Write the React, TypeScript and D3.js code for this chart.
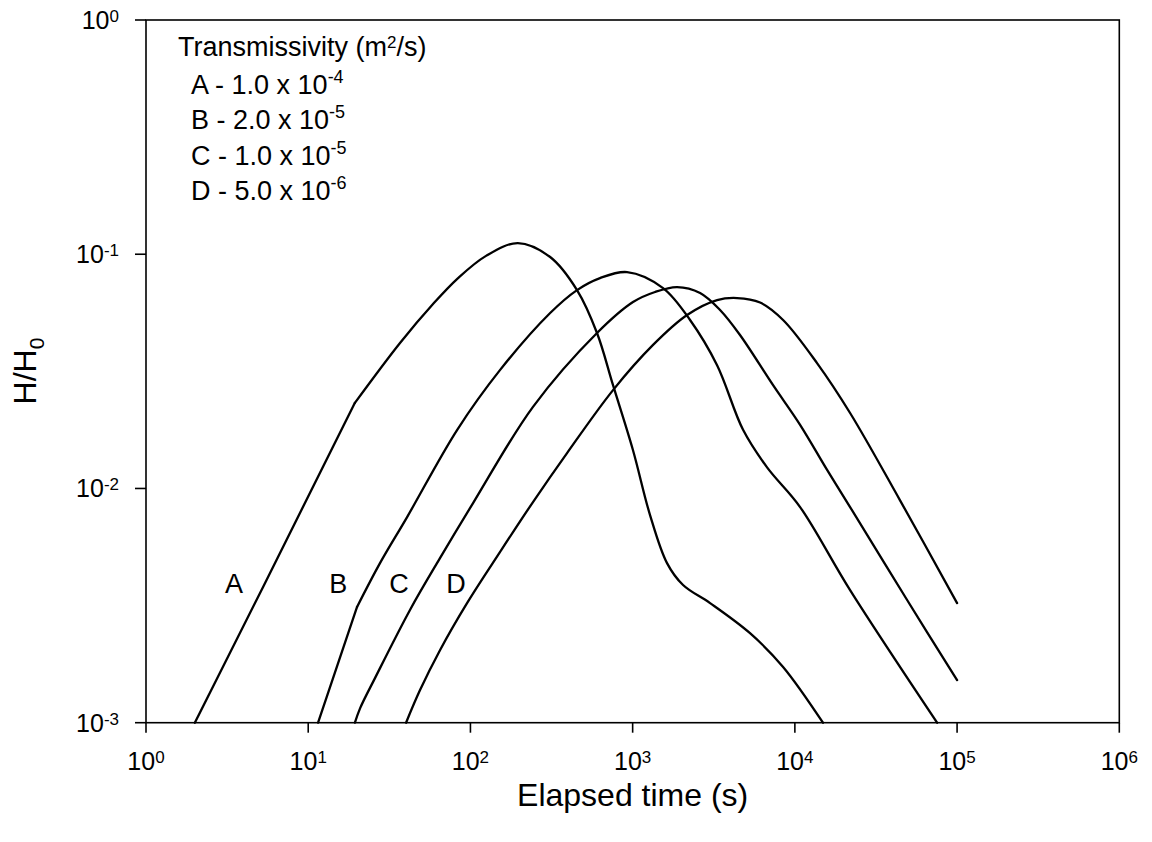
import React from "react";
import * as d3 from "d3";

// ---- data ----
// each point: [elapsed time (s), H/H0]
const seriesA: [number, number][] = [
  [2.0, 0.001], [5.26, 0.00379], [19.4, 0.0232],
  [36.8, 0.0418], [58.8, 0.0613], [83.9, 0.0791], [124.8, 0.0984], [196, 0.1116],
  [310, 0.0973], [454, 0.0703], [603, 0.0461], [757, 0.0276], [1004, 0.0146],
  [1280, 0.0077], [1629, 0.0048], [2045, 0.00387], [3001, 0.00324], [5290, 0.00241],
  [8460, 0.00173], [14900, 0.001],
];
const seriesB: [number, number][] = [
  [11.5, 0.001], [20, 0.00312],
  [27.7, 0.0048], [40.7, 0.00755], [82.7, 0.01776], [152, 0.032], [310, 0.0561],
  [454, 0.0703], [629, 0.0791], [924, 0.0839], [1540, 0.0717], [2259, 0.0524],
  [3315, 0.0336], [4793, 0.0178], [6740, 0.0123], [10770, 0.00833], [21900, 0.00368],
  [75300, 0.001],
];
const seriesC: [number, number][] = [
  [19.4, 0.001], [20.9, 0.001154], [25.8, 0.00155], [42.4, 0.00303], [64.9, 0.00504],
  [103.8, 0.00866], [243, 0.0223], [603, 0.0461], [1005, 0.0625], [1374, 0.069], [1879, 0.0724],
  [2604, 0.0683], [3458, 0.0578], [4590, 0.0452], [7340, 0.0276], [10770, 0.0187],
  [15800, 0.012], [21900, 0.00833], [49200, 0.00334], [100000, 0.00152],
];
const seriesD: [number, number][] = [
  [40.1, 0.001], [48.9, 0.001378], [64.9, 0.00204], [95.3, 0.00324], [152, 0.00535],
  [243, 0.00875], [394, 0.01416], [757, 0.0263], [1336, 0.041], [2165, 0.055],
  [3315, 0.0637], [4405, 0.065], [6103, 0.0622], [8460, 0.0524], [13700, 0.0343],
  [21900, 0.021], [44500, 0.0089], [100000, 0.00324],
];
// index of the sharp kink (straight segment before it), -1 if none
const kinkIndex: Record<string, number> = { A: 2, B: 1, C: -1, D: -1 };

const curveNames = ["A", "B", "C", "D"];
const curveLabelPos: [number, number][] = [[3.49, 0.00358], [15.3, 0.00358], [36.3, 0.00358], [81.5, 0.00358]];

const xTickValues = [1, 10, 100, 1e3, 1e4, 1e5, 1e6];
const xTickExp = ["0", "1", "2", "3", "4", "5", "6"];
const yTickValues = [1e-3, 1e-2, 1e-1, 1];
const yTickExp = ["-3", "-2", "-1", "0"];

const legendTitle = "Transmissivity";
const legendRows = [
  { name: "A", mant: "1.0", exp: "-4" },
  { name: "B", mant: "2.0", exp: "-5" },
  { name: "C", mant: "1.0", exp: "-5" },
  { name: "D", mant: "5.0", exp: "-6" },
];

const W = 1152;
const H = 842;
const FONT = "'Liberation Sans', Arial, Helvetica, sans-serif";

export default function App() {
  const left = 146, right = 1119.3, top = 20, bottom = 722.7;
  const x = d3.scaleLog().domain([1, 1e6]).range([left, right]);
  const y = d3.scaleLog().domain([1e-3, 1]).range([bottom, top]);

  const lin = d3.line<[number, number]>().x(d => x(d[0])).y(d => y(d[1])).curve(d3.curveLinear);
  const smooth = d3.line<[number, number]>().x(d => x(d[0])).y(d => y(d[1])).curve(d3.curveCatmullRom.alpha(0.5));

  const all: [string, [number, number][]][] = [["A", seriesA], ["B", seriesB], ["C", seriesC], ["D", seriesD]];
  const paths: string[] = [];
  all.forEach(([n, s]) => {
    const k = kinkIndex[n];
    if (k > 0) {
      paths.push(lin(s.slice(0, k + 1)) || "");
      paths.push(smooth(s.slice(k)) || "");
    } else {
      paths.push(smooth(s) || "");
    }
  });

  return (
    <svg width={W} height={H} style={{ position: "absolute", left: 0, top: 0, background: "#fff" }}
      fontFamily={FONT}>
      <rect x={0} y={0} width={W} height={H} fill="#fff" />
      {/* frame */}
      <rect x={left} y={top} width={right - left} height={bottom - top} fill="none" stroke="#000" strokeWidth={1.6} />
      {/* x ticks */}
      {xTickValues.map((v, i) => (
        <g key={"xt" + i}>
          <line x1={x(v)} x2={x(v)} y1={bottom} y2={bottom + 10} stroke="#000" strokeWidth={1.6} />
          <text x={x(v)} y={770} textAnchor="middle" fontSize={25} fill="#000">
            10<tspan fontSize={17} dy={-7}>{xTickExp[i]}</tspan>
          </text>
        </g>
      ))}
      {/* y ticks */}
      {yTickValues.map((v, i) => (
        <g key={"yt" + i}>
          <line x1={left - 11} x2={left} y1={y(v)} y2={y(v)} stroke="#000" strokeWidth={1.6} />
          <text x={119} y={y(v) + 9} textAnchor="end" fontSize={25} fill="#000">
            10<tspan fontSize={17} dy={-7}>{yTickExp[i]}</tspan>
          </text>
        </g>
      ))}
      {/* axis titles */}
      <text x={(left + right) / 2} y={806} textAnchor="middle" fontSize={32} fill="#000">Elapsed time (s)</text>
      <text transform="translate(36,371) rotate(-90)" textAnchor="middle" fontSize={32} fill="#000">
        H/H<tspan fontSize={21} dy={8}>0</tspan>
      </text>
      {/* curves */}
      {paths.map((d, i) => (
        <path key={"p" + i} d={d} fill="none" stroke="#000" strokeWidth={2.3} strokeLinecap="round" strokeLinejoin="round" />
      ))}
      {/* curve labels */}
      {curveNames.map((n, i) => (
        <text key={"cl" + i} x={x(curveLabelPos[i][0])} y={y(curveLabelPos[i][1])} textAnchor="middle" fontSize={27} fill="#000">{n}</text>
      ))}
      {/* legend */}
      <text x={178} y={56} fontSize={27} fill="#000">
        {legendTitle} (m<tspan fontSize={17} dy={-8}>2</tspan><tspan dy={8}>/s)</tspan>
      </text>
      {legendRows.map((r, i) => (
        <text key={"lg" + i} x={191} y={94 + i * 35.4} fontSize={27} fill="#000">
          {r.name} - {r.mant} x 10<tspan fontSize={18} dy={-11}>{r.exp}</tspan>
        </text>
      ))}
    </svg>
  );
}
